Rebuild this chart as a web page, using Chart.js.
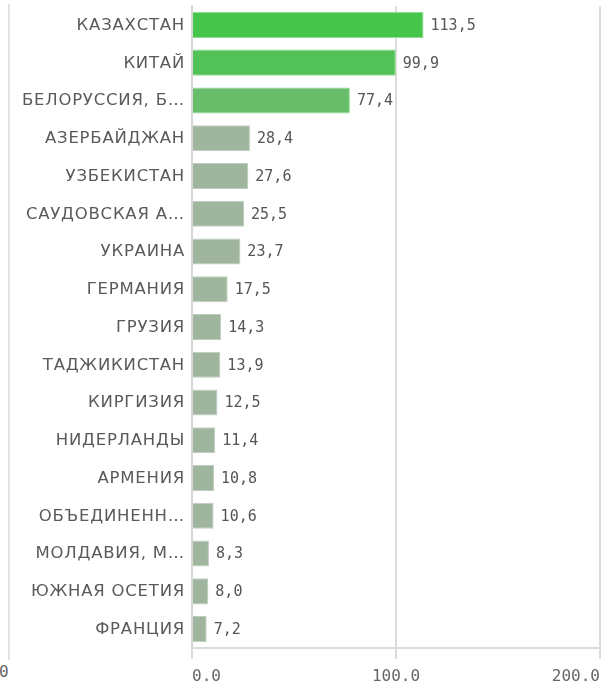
<!DOCTYPE html>
<html>
<head>
<meta charset="utf-8">
<script src="https://cdn.jsdelivr.net/npm/chart.js@4"></script>
<style>
    html, body { margin: 0; padding: 0; background: #fff; }
    #wrap { position: relative; width: 608px; height: 681px; overflow: hidden; }
    #chart { position: absolute; left: 0; top: 0; }
    #leftLine { position: absolute; left: 8px; top: 4px; width: 2px; height: 656px; background: #e2e2e2; }
    #leftZero { position: absolute; left: -1px; top: 662px; font: 16px 'DejaVu Sans Mono', monospace; color: #666; }
</style>
</head>
<body>
<div id="wrap">
    <div id="leftLine"></div>
    <div id="leftZero">0</div>
    <canvas id="chart" width="608" height="681"></canvas>
</div>
<script>
const countries = ['КАЗАХСТАН', 'КИТАЙ', 'БЕЛОРУССИЯ, Б…', 'АЗЕРБАЙДЖАН', 'УЗБЕКИСТАН', 'САУДОВСКАЯ А…',
    'УКРАИНА', 'ГЕРМАНИЯ', 'ГРУЗИЯ', 'ТАДЖИКИСТАН', 'КИРГИЗИЯ', 'НИДЕРЛАНДЫ', 'АРМЕНИЯ',
    'ОБЪЕДИНЕНН…', 'МОЛДАВИЯ, М…', 'ЮЖНАЯ ОСЕТИЯ', 'ФРАНЦИЯ'];
const values = [113.5, 99.9, 77.4, 28.4, 27.6, 25.5, 23.7, 17.5, 14.3, 13.9, 12.5, 11.4, 10.8, 10.6, 8.3, 8.0, 7.2];
const xTicks = [0, 100, 200];

const barColors = values.map((v, i) => i === 0 ? '#45c54b' : i === 1 ? '#52c157' : i === 2 ? '#67bd69' : '#9fb59e');
const borderColors = values.map((v, i) => i < 3 ? '#8fdc92' : '#bfcdbe');

// value labels to the right of each bar + wide category labels
const textPlugin = {
    id: 'textPlugin',
    afterDatasetsDraw(chart) {
        const ctx = chart.ctx;
        const meta = chart.getDatasetMeta(0);
        ctx.save();
        ctx.font = '15px "DejaVu Sans Mono", monospace';
        ctx.fillStyle = '#555';
        ctx.textAlign = 'left';
        ctx.textBaseline = 'middle';
        meta.data.forEach((bar, i) => {
            ctx.fillText(values[i].toFixed(1).replace('.', ','), bar.x + 7, bar.y + 1);
        });

        const yScale = chart.scales.y;
        ctx.font = '15px "DejaVu Sans", sans-serif';
        ctx.fillStyle = '#5a5a5a';
        ctx.textAlign = 'right';
        ctx.letterSpacing = '0.7px';
        countries.forEach((name, i) => {
            ctx.save();
            ctx.translate(yScale.right - 7, yScale.getPixelForTick(i) + 1);
            ctx.scale(1.1, 1);
            ctx.fillText(name, 0, 0);
            ctx.restore();
        });
        ctx.restore();
    }
};

new Chart(document.getElementById('chart').getContext('2d'), {
    type: 'bar',
    data: {
        labels: countries,
        datasets: [{
            data: values,
            backgroundColor: barColors,
            borderColor: borderColors,
            borderWidth: 1,
            categoryPercentage: 0.69,
            barPercentage: 1
        }]
    },
    options: {
        indexAxis: 'y',
        responsive: false,
        animation: false,
        layout: { padding: { top: 6, right: 4, left: 0, bottom: 0 } },
        plugins: {
            legend: { display: false },
            tooltip: { enabled: false }
        },
        scales: {
            x: {
                min: 0,
                max: 200,
                afterBuildTicks: scale => { scale.ticks = xTicks.map(v => ({ value: v })); },
                afterFit: scale => { scale.height = 33; },
                border: { color: '#dcdcdc', width: 2 },
                grid: { color: '#dcdcdc', lineWidth: 2, tickLength: 11 },
                ticks: {
                    align: 'inner',
                    maxRotation: 0,
                    padding: 8,
                    color: '#666',
                    font: { family: '"DejaVu Sans Mono", monospace', size: 16 },
                    callback: v => v.toFixed(1)
                }
            },
            y: {
                afterFit: scale => { scale.width = 192; },
                border: { color: '#d6d6d6', width: 2 },
                grid: { display: false, drawTicks: false },
                ticks: {
                    color: 'rgba(0,0,0,0)',
                    font: { size: 1 }
                }
            }
        }
    },
    plugins: [textPlugin]
});
</script>
</body>
</html>
